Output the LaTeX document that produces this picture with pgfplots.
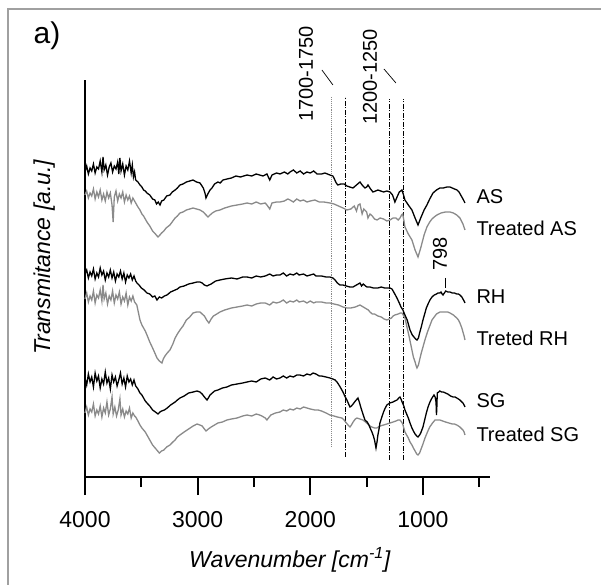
\documentclass[border=0pt]{standalone}
\usepackage{fontspec}
\setmainfont{Liberation Sans}
\usepackage{pgfplots}
\pgfplotsset{compat=1.18}
\definecolor{Curve}{HTML}{8A8A8A}
\definecolor{Frame}{HTML}{A0A0A0}
\newcommand\fs[1]{\fontsize{#1bp}{#1bp}\selectfont}
\tikzset{dashdot/.style={dash pattern=on 5bp off 1.5bp on 1bp off 1.5bp}}

\begin{document}
\begin{tikzpicture}
\useasboundingbox (0,0) rectangle (601bp,585bp);
\draw[Frame,line width=1.6bp] (8bp,0) -- (8bp,576bp) -- (601bp,576bp);
\node[font=\fs{30}] at (47bp,549bp) {a)};
\begin{axis}[at={(85bp,108bp)},anchor=south west,scale only axis,
  width=405bp,height=397bp,
  x dir=reverse,xmin=405,xmax=4000,ymin=0,ymax=397,
  axis x line=bottom,axis y line=left,axis line style={-,line width=2.2bp,black},
  xtick={1000,2000,3000,4000},minor xtick={500,1500,2500,3500},ytick=\empty,
  tick align=outside,major tick length=18bp,minor tick length=10bp,
  every tick/.style={black,line width=1.8bp},
  xticklabel style={font=\fs{23},anchor=center,yshift=-25bp,
    /pgf/number format/1000 sep={},/pgf/number format/assume math mode=true},
  clip=false,
  xlabel={\textit{Wavenumber [cm\textsuperscript{-1}]}},
  xlabel style={font=\fs{23},at={(axis description cs:0.506,-0.209)},anchor=center},
  ylabel={\textit{Transmitance [a.u.]}},
  ylabel style={font=\fs{23},at={(axis description cs:-0.101,0.554)},anchor=center},
]
% reference lines
\addplot[Curve,densely dotted,line width=0.9bp] coordinates {(1810,30) (1810,380)};
\addplot[black,dashdot,line width=0.8bp] coordinates {(1688,20) (1688,380)};
\addplot[black,dashdot,line width=0.8bp] coordinates {(1302,17) (1302,378)};
\addplot[black,dashdot,line width=0.8bp] coordinates {(1178,17) (1178,378)};
\addplot[black,line width=0.7bp] coordinates {(1897,407) (1799,392)};
\addplot[black,line width=0.7bp] coordinates {(1346,408) (1240,394)};
\addplot[black,line width=0.7bp] coordinates {(802,199) (802,189)};

% Treated AS
\addplot[Curve,line width=1.3bp] coordinates {(4000,282) (3985,286) (3970,279) (3955,284) (3940,281) (3925,288) (3910,278) (3895,285) (3880,280) (3865,287) (3850,277) (3835,283) (3820,276) (3805,285) (3790,279) (3775,284) (3760,272) (3750,255) (3740,280) (3725,286) (3710,276) (3695,283) (3680,279) (3665,285) (3650,275) (3635,282) (3620,277) (3605,281) (3590,274) (3575,279) (3560,276) (3550,274) (3530,270) (3512,267) (3495,263) (3480,261) (3465,258) (3450,255) (3425,251) (3400,246) (3375,243) (3352,240) (3335,242) (3320,244) (3300,246) (3280,249) (3246,252) (3220,256) (3200,259) (3180,261) (3157,264) (3130,265) (3100,267) (3070,268) (3041,269) (3010,268) (2979,267) (2950,265) (2925,262) (2908,260) (2890,262) (2870,264) (2840,266) (2802,267) (2760,269) (2700,271) (2650,272) (2600,273) (2562,274) (2520,273) (2480,275) (2440,273) (2400,274) (2385,272) (2360,268) (2340,274) (2300,275) (2269,275) (2230,276) (2200,278) (2180,277) (2150,275) (2120,278) (2090,276) (2060,277) (2030,275) (2000,276) (1960,277) (1920,275) (1880,275) (1826,274) (1790,273) (1750,271) (1710,269) (1675,267) (1640,268) (1610,271) (1590,266) (1575,272) (1559,273) (1540,263) (1525,268) (1500,265) (1488,259) (1470,263) (1450,261) (1430,258) (1408,257) (1380,259) (1350,258) (1320,256) (1293,257) (1265,259) (1240,259) (1220,257) (1204,259) (1190,262) (1180,263) (1170,257) (1160,250) (1130,243) (1098,237) (1070,227) (1044,220) (1020,229) (990,242) (965,250) (940,255) (920,258) (900,260) (876,262) (840,264) (800,265) (760,265) (730,264) (700,262) (672,259) (645,253) (627,247)};
% AS
\addplot[black,line width=1.3bp] coordinates {(4000,305) (3985,311) (3970,303) (3955,309) (3940,306) (3925,313) (3910,304) (3895,310) (3880,308) (3865,316) (3850,305) (3840,320) (3830,307) (3815,312) (3800,302) (3785,310) (3770,314) (3755,305) (3740,311) (3725,308) (3710,315) (3700,303) (3690,319) (3680,306) (3665,313) (3650,302) (3635,311) (3620,307) (3605,316) (3590,304) (3580,312) (3570,300) (3560,305) (3550,297) (3530,295) (3512,292) (3495,290) (3480,287) (3465,286) (3450,284) (3425,282) (3400,278) (3380,277) (3365,273) (3350,275) (3334,272) (3320,276) (3300,277) (3275,281) (3246,282) (3225,285) (3200,287) (3180,289) (3157,292) (3130,293) (3100,295) (3070,296) (3041,297) (3010,295) (2979,294) (2950,289) (2935,284) (2926,279) (2910,283) (2890,287) (2873,289) (2850,293) (2820,295) (2800,294) (2775,297) (2740,298) (2700,299) (2660,301) (2620,300) (2562,302) (2520,301) (2480,303) (2450,302) (2420,301) (2385,303) (2360,297) (2340,302) (2300,304) (2269,303) (2230,305) (2200,303) (2180,305) (2150,307) (2120,304) (2090,306) (2060,303) (2030,305) (2000,304) (1970,306) (1940,303) (1900,303) (1870,304) (1826,302) (1800,301) (1790,299) (1770,294) (1755,292) (1730,293) (1700,293) (1675,291) (1650,290) (1621,289) (1590,292) (1559,295) (1540,292) (1515,289) (1500,290) (1488,292) (1465,288) (1444,285) (1420,286) (1400,287) (1375,286) (1350,285) (1320,286) (1293,285) (1270,282) (1249,275) (1230,280) (1210,285) (1187,287) (1175,283) (1160,277) (1130,272) (1098,267) (1070,259) (1044,252) (1020,259) (990,267) (965,272) (940,278) (911,284) (880,287) (850,289) (820,289) (787,290) (760,290) (740,289) (720,288) (698,287) (680,285) (660,281) (640,277) (627,274)};
% Treated RH
\addplot[Curve,line width=1.3bp] coordinates {(4000,178) (3985,184) (3970,175) (3955,181) (3940,177) (3925,186) (3910,174) (3895,182) (3880,179) (3865,187) (3850,176) (3840,192) (3830,178) (3815,184) (3800,173) (3785,181) (3770,177) (3755,186) (3740,174) (3725,182) (3710,178) (3695,185) (3680,173) (3665,180) (3650,176) (3635,184) (3620,172) (3605,180) (3590,176) (3575,181) (3560,175) (3540,172) (3525,164) (3512,157) (3495,152) (3480,149) (3465,146) (3450,142) (3425,135) (3400,129) (3380,124) (3361,119) (3340,116) (3317,114) (3305,118) (3290,121) (3270,124) (3246,127) (3220,133) (3200,139) (3180,143) (3157,147) (3130,151) (3100,157) (3070,160) (3041,164) (3010,165) (2979,165) (2960,163) (2940,161) (2920,157) (2900,154) (2880,158) (2860,161) (2830,163) (2802,165) (2760,167) (2700,169) (2650,170) (2600,171) (2562,172) (2520,171) (2480,173) (2440,174) (2400,174) (2360,172) (2330,175) (2300,174) (2269,175) (2240,177) (2210,174) (2180,176) (2150,175) (2120,177) (2100,175) (2060,176) (2030,174) (2000,176) (1970,174) (1950,175) (1900,175) (1860,174) (1826,174) (1790,173) (1750,172) (1710,170) (1675,169) (1640,169) (1600,170) (1580,171) (1559,172) (1530,170) (1500,168) (1485,167) (1470,165) (1450,163) (1430,163) (1400,161) (1370,160) (1345,158) (1320,157) (1300,158) (1280,159) (1265,161) (1249,162) (1220,163) (1200,164) (1187,164) (1175,162) (1160,159) (1142,150) (1120,139) (1098,127) (1085,120) (1070,115) (1060,111) (1053,109) (1040,112) (1030,117) (1015,124) (1000,130) (980,138) (960,145) (940,151) (920,157) (900,160) (880,163) (865,164) (849,165) (825,165) (800,165) (780,165) (760,164) (730,162) (700,159) (685,157) (672,154) (655,149) (645,145) (635,141) (627,137)};
% RH
\addplot[black,line width=1.3bp] coordinates {(4000,203) (3985,207) (3970,199) (3955,205) (3940,201) (3925,208) (3910,198) (3895,204) (3880,200) (3865,209) (3850,202) (3835,206) (3820,197) (3805,204) (3790,200) (3775,207) (3760,199) (3745,205) (3730,196) (3715,203) (3700,200) (3685,206) (3670,198) (3655,204) (3640,195) (3625,202) (3610,199) (3595,203) (3580,197) (3565,201) (3550,196) (3539,194) (3520,192) (3500,189) (3475,187) (3450,184) (3425,183) (3400,180) (3380,181) (3361,177) (3340,180) (3320,179) (3295,181) (3272,182) (3240,185) (3200,187) (3180,188) (3157,190) (3120,191) (3080,193) (3040,194) (3006,195) (2980,195) (2960,194) (2940,192) (2917,191) (2900,192) (2880,193) (2840,196) (2802,197) (2760,198) (2700,199) (2650,198) (2600,200) (2562,200) (2520,199) (2480,201) (2440,200) (2400,201) (2360,203) (2330,201) (2300,202) (2269,202) (2240,204) (2210,201) (2180,203) (2150,202) (2120,204) (2100,202) (2060,203) (2030,201) (2000,202) (1970,203) (1950,201) (1900,201) (1860,200) (1826,200) (1800,199) (1780,197) (1760,194) (1737,192) (1710,192) (1680,191) (1650,190) (1621,190) (1590,192) (1559,194) (1545,191) (1530,193) (1510,191) (1497,190) (1470,190) (1440,189) (1400,189) (1370,190) (1340,189) (1293,189) (1275,188) (1260,185) (1245,182) (1231,179) (1210,174) (1195,170) (1178,167) (1160,162) (1140,157) (1115,147) (1095,142) (1080,140) (1065,138) (1053,137) (1040,139) (1030,144) (1015,150) (1000,157) (985,163) (970,169) (955,173) (938,177) (920,180) (900,182) (880,183) (867,184) (850,184) (840,185) (830,183) (822,182) (810,184) (798,186) (780,185) (760,185) (740,184) (720,184) (700,183) (685,183) (672,182) (655,180) (645,178) (635,176) (627,174)};
% Treated SG
\addplot[Curve,line width=1.3bp] coordinates {(4000,64) (3985,70) (3970,62) (3955,68) (3940,65) (3925,73) (3910,61) (3895,67) (3880,63) (3865,71) (3850,60) (3835,69) (3820,64) (3805,75) (3790,62) (3775,68) (3760,80) (3750,63) (3735,70) (3720,61) (3705,67) (3690,78) (3680,62) (3665,68) (3650,60) (3635,66) (3620,63) (3605,69) (3590,59) (3575,64) (3560,61) (3550,60) (3530,56) (3512,52) (3495,49) (3480,47) (3465,45) (3450,42) (3425,37) (3400,32) (3370,28) (3340,24) (3320,26) (3300,27) (3275,30) (3246,32) (3220,35) (3200,37) (3180,40) (3157,42) (3120,45) (3080,48) (3040,51) (3006,53) (2980,52) (2960,51) (2940,48) (2926,46) (2905,48) (2880,50) (2850,52) (2820,54) (2780,55) (2740,57) (2700,58) (2650,59) (2600,61) (2562,62) (2520,61) (2480,63) (2450,62) (2430,61) (2400,59) (2385,57) (2365,60) (2350,62) (2310,64) (2269,65) (2240,67) (2210,66) (2180,68) (2150,67) (2120,69) (2090,68) (2060,70) (2030,69) (2000,68) (1960,67) (1930,67) (1900,66) (1860,64) (1826,62) (1790,61) (1760,60) (1720,59) (1700,57) (1680,54) (1665,52) (1648,50) (1635,52) (1620,55) (1600,58) (1586,59) (1560,58) (1533,57) (1510,55) (1490,53) (1470,51) (1453,50) (1430,49) (1410,49) (1380,51) (1350,52) (1320,53) (1293,54) (1265,55) (1240,56) (1220,57) (1204,57) (1190,55) (1180,53) (1170,49) (1160,45) (1145,42) (1130,39) (1115,35) (1098,32) (1085,29) (1070,26) (1055,23) (1044,22) (1030,24) (1020,27) (1000,33) (982,39) (960,45) (940,50) (915,54) (893,57) (870,57) (850,57) (825,56) (800,55) (770,54) (740,53) (720,53) (700,52) (685,51) (672,50) (655,48) (645,47) (635,45) (627,42)};
% SG
\addplot[black,line width=1.3bp] coordinates {(4000,99) (3985,92) (3970,103) (3955,95) (3940,100) (3925,90) (3910,104) (3895,96) (3880,101) (3865,89) (3850,98) (3835,93) (3820,105) (3805,94) (3790,99) (3775,88) (3760,102) (3745,95) (3730,100) (3715,91) (3700,97) (3685,104) (3670,93) (3655,99) (3640,90) (3625,101) (3610,95) (3595,98) (3580,92) (3565,97) (3550,91) (3530,88) (3512,84) (3495,82) (3480,79) (3465,76) (3450,74) (3425,71) (3400,67) (3375,65) (3352,63) (3335,65) (3320,66) (3295,67) (3270,69) (3240,72) (3200,75) (3180,77) (3157,79) (3120,81) (3080,84) (3040,85) (3006,86) (2980,85) (2960,83) (2940,80) (2917,77) (2905,79) (2890,82) (2870,84) (2850,86) (2820,87) (2780,89) (2740,90) (2700,92) (2650,93) (2600,94) (2562,95) (2520,96) (2480,95) (2440,98) (2400,99) (2360,97) (2330,100) (2300,98) (2269,99) (2240,101) (2210,99) (2180,101) (2150,100) (2120,102) (2092,102) (2060,101) (2030,103) (2000,102) (1976,104) (1950,103) (1920,101) (1900,101) (1860,100) (1826,99) (1800,98) (1780,97) (1763,95) (1740,91) (1710,85) (1690,80) (1675,77) (1660,73) (1648,70) (1635,71) (1620,73) (1600,76) (1577,79) (1565,75) (1550,69) (1530,62) (1515,57) (1495,55) (1480,52) (1465,48) (1453,45) (1440,41) (1430,37) (1417,29) (1408,35) (1400,42) (1390,48) (1382,54) (1365,60) (1350,65) (1335,69) (1320,72) (1295,74) (1266,75) (1250,76) (1230,77) (1215,79) (1204,80) (1195,78) (1185,75) (1170,71) (1160,67) (1145,63) (1130,59) (1115,54) (1098,49) (1085,46) (1070,43) (1055,41) (1044,40) (1030,42) (1020,44) (1010,47) (1000,50) (985,57) (970,64) (955,70) (938,75) (920,79) (902,82) (892,80) (884,75) (880,62) (876,72) (873,84) (860,85) (850,86) (835,85) (820,85) (800,84) (780,83) (755,81) (733,80) (715,80) (700,79) (685,78) (672,77) (655,75) (645,74) (635,72) (627,70)};

% annotations
\node[rotate=90,font=\fs{20}] at (axis cs:2039,403) {1700-1750};
\node[rotate=90,font=\fs{20}] at (axis cs:1471,400) {1200-1250};
\node[rotate=90,font=\fs{20}] at (axis cs:849,223) {798};
\node[anchor=west,font=\fs{20}] at (axis cs:556,280) {AS};
\node[anchor=west,font=\fs{20}] at (axis cs:556,249) {Treated AS};
\node[anchor=west,font=\fs{20}] at (axis cs:556,180) {RH};
\node[anchor=west,font=\fs{20}] at (axis cs:556,139) {Treted RH};
\node[anchor=west,font=\fs{20}] at (axis cs:556,76) {SG};
\node[anchor=west,font=\fs{20}] at (axis cs:556,43) {Treated SG};
\end{axis}
\end{tikzpicture}
\end{document}
